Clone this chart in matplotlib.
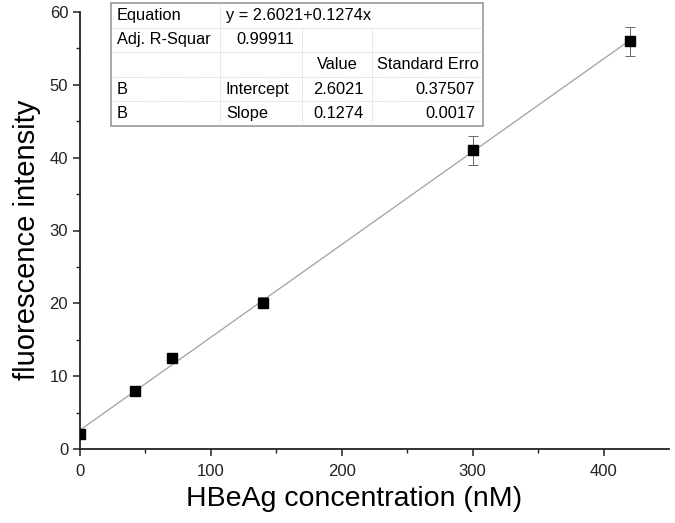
import matplotlib
matplotlib.use("Agg")
import matplotlib.pyplot as plt
import numpy as np
from matplotlib.patches import Rectangle
from matplotlib.lines import Line2D

plt.rcParams['font.family'] = ['Liberation Sans', 'DejaVu Sans']

conc = [0, 42, 70, 140, 300, 420]
intensity = [2.0, 8.0, 12.5, 20.1, 41.0, 56.0]
err = [0.3, 0.3, 0.4, 0.8, 2.0, 2.0]
intercept = 2.6021
slope = 0.1274
fit_x = [0, 420]

table_rows = [
    ["Equation", "y = 2.6021+0.1274x", "", ""],
    ["Adj. R-Squar", "0.99911", "", ""],
    ["", "", "Value", "Standard Erro"],
    ["B", "Intercept", "2.6021", "0.37507"],
    ["B", "Slope", "0.1274", "0.0017"],
]

W, H = 675, 523
fig = plt.figure(figsize=(6.75, 5.23), dpi=100)
ax = fig.add_axes([80 / W, 1 - 449 / H, (669 - 80) / W, (449 - 12) / H])

fx = np.array(fit_x, dtype=float)
ax.plot(fx, intercept + slope * fx, color='#a0a0a0', lw=0.9, zorder=2)
ax.errorbar(conc, intensity, yerr=err, fmt='s', color='black', ms=7,
            ecolor='#666666', elinewidth=0.7, capsize=3.5, capthick=0.7, zorder=3)

ax.set_xlim(0, 450)
ax.set_ylim(0, 60)
ax.set_xticks([0, 100, 200, 300, 400])
ax.set_yticks([0, 10, 20, 30, 40, 50, 60])
ax.set_xticks(np.arange(50, 450, 100), minor=True)
ax.set_yticks(np.arange(5, 60, 10), minor=True)
for s in ['top', 'right']:
    ax.spines[s].set_visible(False)
for s in ['left', 'bottom']:
    ax.spines[s].set_linewidth(1.3)
    ax.spines[s].set_color('#222222')
ax.tick_params(which='major', direction='out', length=5, width=1.1, labelsize=12, colors='#222222')
ax.tick_params(which='minor', direction='out', length=3, width=1.0, colors='#222222')
ax.tick_params(axis='x', pad=6)
ax.set_xlabel("HBeAg concentration (nM)", fontsize=20.5)
ax.set_ylabel("fluorescence intensity", fontsize=21)
ax.xaxis.set_label_coords(0.465, -0.085)
ax.yaxis.set_label_coords(-0.066, 0.478)

# table drawn in figure pixel coordinates
left, right, top, bottom = 111, 483, 3, 126
col_edges = [111, 220, 302, 372, 483]
nrows = len(table_rows)
rh = (bottom - top) / nrows
fs = 11.8

def fxp(x):
    return x / W

def fyp(y):
    return 1 - y / H

fig.patches.append(Rectangle((fxp(left), fyp(bottom)), fxp(right - left), (bottom - top) / H,
                             transform=fig.transFigure, facecolor='white',
                             edgecolor='#999999', lw=1.2, zorder=5))
for i in range(1, nrows):
    y = top + i * rh
    fig.lines.append(Line2D([fxp(left), fxp(right)], [fyp(y), fyp(y)], transform=fig.transFigure,
                            color='#cccccc', lw=0.6, ls=(0, (1, 1)), zorder=6))
for j, x in enumerate(col_edges[1:-1]):
    ystart = top if j == 0 else top + rh
    fig.lines.append(Line2D([fxp(x), fxp(x)], [fyp(ystart), fyp(bottom)],
                            transform=fig.transFigure, color='#cccccc', lw=0.6,
                            ls=(0, (1, 1)), zorder=6))

for i, row in enumerate(table_rows):
    yc = top + (i + 0.5) * rh
    for j, txt in enumerate(row):
        if not txt:
            continue
        if j == 0 or (j == 1 and i != 1):
            fig.text(fxp(col_edges[j] + 6), fyp(yc), txt, ha='left', va='center', fontsize=fs, zorder=7)
        elif i == 2:
            fig.text(fxp((col_edges[j] + col_edges[j + 1]) / 2), fyp(yc), txt, ha='center', va='center',
                     fontsize=fs, zorder=7)
        else:
            fig.text(fxp(col_edges[j + 1] - 8), fyp(yc), txt, ha='right', va='center', fontsize=fs, zorder=7)

fig.savefig("out.png", dpi=100)
